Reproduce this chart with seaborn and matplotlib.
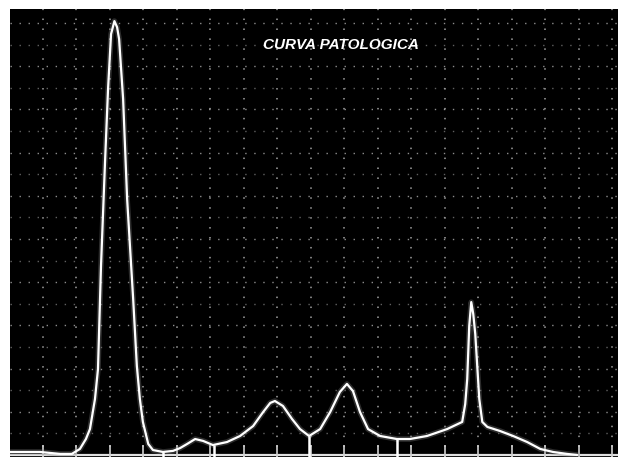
import numpy as np
import pandas as pd
import matplotlib
matplotlib.use("Agg")
import matplotlib.pyplot as plt
import seaborn as sns

# Densitometric curve (x in grid divisions, y in grid divisions above baseline)
curve_x = [-0.98, -0.08, 0.52, 0.87, 1.11, 1.29, 1.41, 1.56, 1.65, 1.74, 1.86, 1.95, 2.04, 2.14,
           2.22, 2.28, 2.40, 2.52, 2.70, 2.81, 2.90, 2.99, 3.15, 3.29, 3.59, 3.89, 4.10, 4.31,
           4.55, 4.79, 5.08, 5.50, 5.89, 6.28, 6.58, 6.79, 6.93, 7.17, 7.44, 7.68, 7.95, 8.28,
           8.58, 8.87, 9.08, 9.26, 9.47, 9.71, 10.07, 10.57, 10.96, 11.47, 12.07, 12.52, 12.61,
           12.67, 12.73, 12.79, 12.85, 12.91, 13.03, 13.12, 13.27, 13.65, 14.04, 14.46, 14.85,
           15.23, 15.65, 15.95]
curve_y = [0.14, 0.14, 0.05, 0.05, 0.28, 0.74, 1.20, 2.59, 3.98, 8.75, 13.56, 16.94, 19.49, 20.09,
           19.81, 19.26, 16.48, 11.85, 7.22, 4.12, 2.59, 1.53, 0.51, 0.23, 0.14, 0.19, 0.32, 0.51,
           0.74, 0.65, 0.46, 0.60, 0.88, 1.34, 1.99, 2.41, 2.50, 2.27, 1.67, 1.20, 0.88, 1.20,
           1.99, 2.92, 3.29, 2.96, 1.99, 1.20, 0.88, 0.74, 0.74, 0.88, 1.20, 1.53, 2.36,
           3.52, 5.97, 7.08, 6.53, 5.60, 2.59, 1.53, 1.30, 1.11, 0.88, 0.60, 0.28,
           0.14, 0.05, 0.0]
# Fraction separators (x positions)
separators = [3.59, 5.11, 7.95, 10.57]
title_text = "CURVA PATOLOGICA"

df = pd.DataFrame({"x": curve_x, "y": curve_y})

sns.set_style("dark")
fig = plt.figure(figsize=(6.22, 4.60), dpi=100, facecolor="white")
ax = fig.add_axes([10/622, 2/460, 608/622, 448/460])
ax.set_facecolor("black")

xmin, xmax = -0.976, 17.17
ymin, ymax = -0.093, 20.65
ax.set_xlim(xmin, xmax)
ax.set_ylim(ymin, ymax)

# dotted grid
for gx in range(0, 18):
    ax.axvline(gx, color="#bdbdbd", lw=1.1, ls=(0, (1, 5.5)), alpha=0.85, zorder=1)
for gy in range(1, 21):
    ax.axhline(gy, color="#b0b0b0", lw=1.0, ls=(0, (1, 5.5)), alpha=0.8 if gy % 2 == 0 else 0.55, zorder=1)

# baseline and ticks
ax.axhline(0, color="#e0e0e0", lw=1.6, zorder=3)
ax.vlines(np.arange(0, 18), ymin, 0.45, color="#d0d0d0", lw=1.2, zorder=3)

# glow + curve
sns.lineplot(data=df, x="x", y="y", color="#808080", lw=4.0, alpha=0.35, ax=ax,
             estimator=None, sort=False, zorder=4)
sns.lineplot(data=df, x="x", y="y", color="white", lw=1.6, ax=ax,
             estimator=None, sort=False, zorder=5)

# separators
sep_top = np.interp(separators, curve_x, curve_y)
ax.vlines(separators, ymin, sep_top, color="white", lw=1.8, zorder=5)

ax.text(341/622, 1 - 45/460, title_text, transform=fig.transFigure, ha="center", va="center",
        color="white", fontsize=11, fontweight="bold", fontstyle="italic",
        family=["Liberation Sans Narrow", "Liberation Sans", "DejaVu Sans"])

ax.set_xlabel("")
ax.set_ylabel("")
ax.set_xticks([])
ax.set_yticks([])
for s in ax.spines.values():
    s.set_visible(False)

fig.savefig("out.png", dpi=100, facecolor="white")
